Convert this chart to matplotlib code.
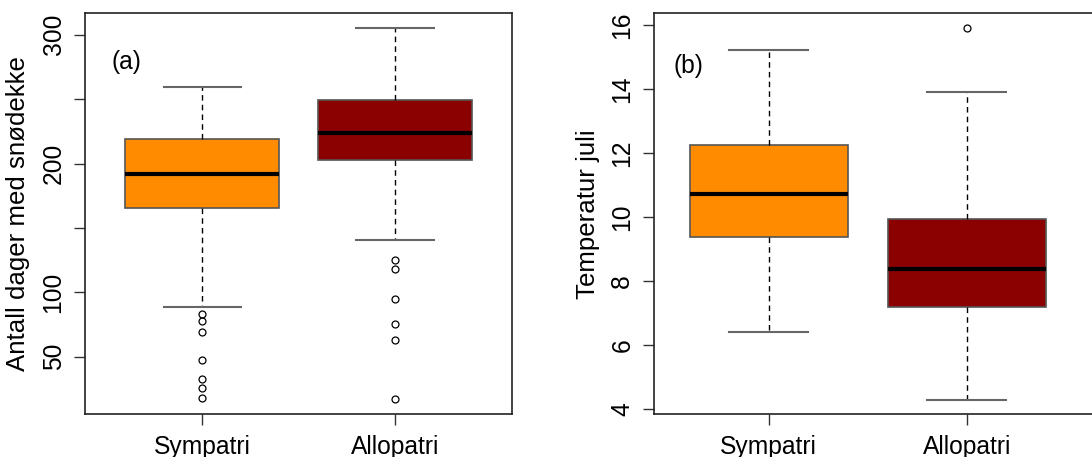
import matplotlib
matplotlib.use("Agg")
import matplotlib.pyplot as plt

plt.rcParams['font.family'] = ['Liberation Sans', 'DejaVu Sans']

groups = ["Sympatri", "Allopatri"]
colors = ["#FF8C00", "#8B0000"]

# (a) Antall dager med snødekke
a_q1 = [165.3, 202.6]
a_med = [192.2, 223.8]
a_q3 = [218.9, 249.2]
a_lo = [88.9, 140.9]
a_hi = [259.5, 305.2]
a_fliers = [[82.9, 77.7, 69.4, 47.7, 32.9, 25.9, 18.1],
            [124.8, 117.9, 94.8, 75.6, 62.9, 16.8]]

# (b) Temperatur juli
b_q1 = [9.38, 7.21]
b_med = [10.74, 8.40]
b_q3 = [12.26, 9.94]
b_lo = [6.41, 4.31]
b_hi = [15.24, 13.93]
b_fliers = [[], [15.92]]

W, H = 1092, 457
fig = plt.figure(figsize=(W / 100, H / 100), dpi=100)

def panel(rect, q1, med, q3, lo, hi, fl, xlim, ylim, yticks, ylabels, ylab, tag, tagpos, labpad):
    ax = fig.add_axes(rect)
    stats = []
    for i in range(2):
        stats.append(dict(med=med[i], q1=q1[i], q3=q3[i], whislo=lo[i], whishi=hi[i], fliers=fl[i]))
    bp = ax.bxp(stats, positions=[1, 2], widths=0.8, patch_artist=True, capwidths=0.4,
                boxprops=dict(edgecolor='#555555', linewidth=1.2),
                medianprops=dict(color='black', linewidth=3),
                whiskerprops=dict(color='black', linewidth=1, linestyle=(0, (4, 3))),
                capprops=dict(color='#666666', linewidth=1.5),
                flierprops=dict(marker='o', markersize=5, markerfacecolor='none',
                                markeredgecolor='black', markeredgewidth=0.9))
    for patch, c in zip(bp['boxes'], colors):
        patch.set_facecolor(c)
    ax.set_xlim(*xlim)
    ax.set_ylim(*ylim)
    ax.set_xticks([1, 2])
    ax.set_xticklabels(groups, fontsize=17.7)
    ax.set_yticks(yticks)
    ax.set_yticklabels(ylabels, fontsize=17.7, rotation=90, va='center')
    ax.tick_params(axis='both', length=8, width=1, color='#333333')
    ax.tick_params(axis='y', pad=6)
    ax.tick_params(axis='x', pad=7)
    for s in ax.spines.values():
        s.set_color('#222222')
        s.set_linewidth(1.2)
    ax.set_ylabel(ylab, fontsize=18.6, labelpad=labpad)
    ax.text(tagpos[0], tagpos[1], tag, transform=ax.transAxes, fontsize=17.7,
            ha='center', va='center')
    return ax

# panel a: x 85..512.3, y 13.3..414.3 (pixels)
ra = [85 / W, 1 - 414.3 / H, 427.3 / W, 401 / H]
panel(ra, a_q1, a_med, a_q3, a_lo, a_hi, a_fliers,
      (0.392, 2.608), (5.3, 316.7), [50, 100, 150, 200, 250, 300],
      ["50", "100", "", "200", "", "300"], "Antall dager med snødekke", "(a)",
      (0.096, 0.879), 8)

# panel b: x 653.7..1093, y 13.3..414.3
rb = [653.7 / W, 1 - 414.3 / H, (1093 - 653.7) / W, 401 / H]
panel(rb, b_q1, b_med, b_q3, b_lo, b_hi, b_fliers,
      (0.419, 2.638), (3.85, 16.38), [4, 6, 8, 10, 12, 14, 16],
      ["4", "6", "8", "10", "12", "14", "16"], "Temperatur juli", "(b)",
      (0.079, 0.869), 7.5)

fig.savefig("out.png", dpi=100)
